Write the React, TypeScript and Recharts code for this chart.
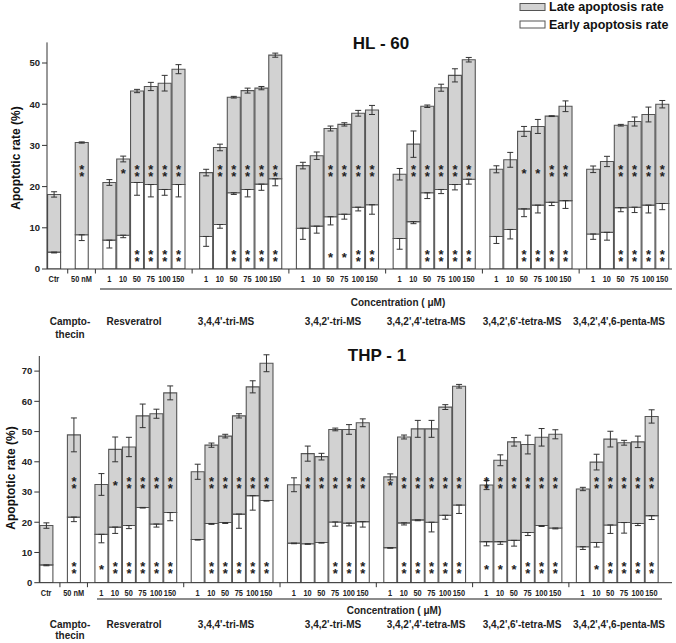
import React from 'react';
import { BarChart, Bar, XAxis, YAxis, ErrorBar, LabelList } from 'recharts';

const FONT = '"Liberation Sans", Arial, Helvetica, sans-serif';

// ---- categories ----
const treatments = ['Ctr', '50 nM'];
const concentrations = ['1', '10', '50', '75', '100', '150'];
const compounds = ['Resveratrol', "3,4,4'-tri-MS", "3,4,2'-tri-MS", "3,4,2',4'-tetra-MS", "3,4,2',6'-tetra-MS", "3,4,2',4',6-penta-MS"];

// ---- HL-60 ----
const hl60Total = [18.1, 30.7, 21.0, 26.7, 43.2, 44.3, 45.1, 48.5, 23.4, 29.5, 41.7, 43.3, 43.9, 51.9, 25.1, 27.5, 34.1, 35.1, 37.8, 38.6, 23.0, 30.3, 39.5, 44.0, 47.0, 50.8, 24.2, 26.5, 33.4, 34.6, 37.1, 39.5, 24.2, 26.1, 34.9, 35.8, 37.5, 40.0];
const hl60TotalErr = [0.65, 0.15, 0.7, 0.7, 0.4, 1.0, 1.9, 1.1, 0.8, 0.8, 0.2, 0.6, 0.4, 0.5, 0.8, 0.9, 0.6, 0.4, 0.7, 1.1, 1.4, 3.2, 0.3, 0.85, 1.6, 0.55, 0.85, 1.8, 1.2, 1.7, 0.1, 1.3, 0.8, 1.25, 0.2, 1.1, 1.8, 0.9];
const hl60Early = [4.1, 8.3, 7.0, 8.2, 21.0, 20.5, 19.3, 20.5, 7.9, 10.8, 18.5, 19.3, 20.6, 21.9, 9.9, 10.4, 12.7, 13.3, 15.0, 15.6, 7.4, 11.5, 18.5, 19.3, 20.5, 21.8, 7.9, 9.6, 14.6, 15.5, 16.2, 16.6, 8.5, 8.9, 14.9, 15.0, 15.5, 15.9];
const hl60EarlyErr = [0.2, 1.4, 1.9, 0.6, 3.1, 3.0, 1.4, 3.0, 2.4, 0.9, 0.4, 1.8, 1.5, 1.7, 2.7, 1.7, 2.0, 1.2, 0.9, 2.3, 2.6, 0.5, 1.4, 1.0, 1.3, 1.2, 1.7, 2.3, 1.9, 1.9, 0.8, 1.9, 1.3, 1.9, 1.0, 1.3, 1.9, 1.5];
const hl60LateSig = ['', '**', '', '*', '**', '**', '**', '**', '', '**', '**', '**', '**', '**', '', '', '**', '**', '**', '**', '', '**', '**', '**', '**', '**', '', '', '*', '*', '**', '**', '', '', '**', '**', '**', '**'];
const hl60EarlySig = ['', '', '', '', '**', '**', '**', '**', '', '', '**', '**', '**', '**', '', '', '*', '*', '**', '**', '', '', '**', '**', '**', '**', '', '', '**', '**', '**', '**', '', '', '**', '**', '**', '**'];

// ---- THP-1 ----
const thpTotal = [18.9, 48.9, 32.5, 44.1, 44.9, 55.2, 55.9, 62.8, 36.7, 45.5, 48.5, 55.2, 64.8, 72.6, 32.4, 42.7, 41.7, 50.7, 50.7, 52.9, 35.0, 48.2, 50.9, 50.9, 58.1, 65.0, 32.3, 40.5, 46.6, 45.7, 48.1, 49.1, 31.0, 39.9, 47.5, 46.3, 46.6, 55.0];
const thpTotalErr = [0.9, 5.6, 3.6, 4.1, 3.2, 3.9, 1.5, 2.3, 2.5, 0.7, 0.6, 0.7, 2.0, 2.8, 2.3, 2.5, 1.1, 0.45, 1.6, 1.3, 1.0, 0.65, 2.8, 2.8, 0.8, 0.6, 1.5, 1.8, 1.4, 3.1, 2.9, 1.5, 0.55, 2.6, 2.6, 0.8, 1.9, 2.2];
const thpEarly = [5.9, 21.7, 16.0, 18.4, 18.9, 24.9, 19.4, 23.2, 14.3, 19.6, 19.9, 22.7, 28.8, 27.2, 13.1, 12.9, 13.3, 20.1, 19.7, 20.2, 11.6, 19.8, 20.8, 20.0, 22.3, 25.7, 13.6, 13.6, 14.0, 16.6, 18.9, 18.1, 11.9, 13.3, 19.1, 19.9, 19.6, 22.2];
const thpEarlyErr = [0.3, 1.5, 2.8, 2.1, 1.0, 0.2, 1.0, 2.7, 0.2, 0.3, 0.3, 4.7, 4.8, 0.2, 0.2, 0.2, 0.2, 1.4, 0.9, 1.8, 0.2, 0.7, 0.3, 3.2, 1.3, 2.8, 1.4, 0.9, 1.9, 1.0, 0.3, 0.3, 0.9, 1.5, 2.8, 3.5, 0.7, 1.3];
const thpLateSig = ['', '**', '', '*', '**', '**', '**', '**', '', '**', '**', '**', '**', '**', '', '**', '**', '**', '**', '**', '*', '**', '**', '**', '**', '**', '**', '**', '**', '**', '**', '**', '', '**', '**', '**', '**', '**'];
const thpEarlySig = ['', '**', '*', '**', '**', '**', '**', '**', '', '**', '**', '**', '**', '**', '', '', '', '**', '**', '**', '', '**', '**', '**', '**', '**', '*', '*', '*', '**', '**', '**', '', '*', '**', '**', '**', '**'];

const hl60Ticks = [0, 10, 20, 30, 40, 50];
const thpTicks = [0, 10, 20, 30, 40, 50, 60, 70];

// slot labels with empty gap slots between groups
function slotLabels(): string[] {
  const s: string[] = [treatments[0], '', treatments[1], ''];
  compounds.forEach((_, g) => {
    s.push(...concentrations);
    if (g < compounds.length - 1) s.push('');
  });
  return s;
}

function buildRows(total: number[], totalErr: number[], early: number[], earlyErr: number[], lateSig: string[], earlySig: string[]) {
  let k = 0;
  return slotLabels().map((label, idx) => {
    if (label === '') return { idx, label: '', gap: true, early: null, late: null, earlyErr: null, totalErr: null, lateSig: '', earlySig: '' };
    const i = k++;
    return {
      idx,
      label,
      gap: false,
      early: early[i],
      late: +(total[i] - early[i]).toFixed(2),
      earlyErr: [earlyErr[i], 0],
      totalErr: totalErr[i],
      lateSig: lateSig[i],
      earlySig: earlySig[i],
    };
  });
}

const hl60Rows = buildRows(hl60Total, hl60TotalErr, hl60Early, hl60EarlyErr, hl60LateSig, hl60EarlySig);
const thpRows = buildRows(thpTotal, thpTotalErr, thpEarly, thpEarlyErr, thpLateSig, thpEarlySig);

function XTick(props: any) {
  const { x, y, payload, rows } = props;
  const row = rows[payload.value];
  if (!row) return null;
  if (row.gap) return <line x1={x} x2={x} y1={y - 4} y2={y + 0.5} stroke="#333" strokeWidth={1} />;
  return (
    <text
      x={x}
      y={y + 9}
      textAnchor="middle"
      fontSize={9}
      fontWeight="bold"
      fontFamily={FONT}
      fill="#222"
      transform={`translate(${x},0) scale(0.82,1) translate(${-x},0)`}
    >
      {row.label}
    </text>
  );
}

function Stars({ cx, cy, sig }: { cx: number; cy: number; sig: string }) {
  const fs = 13;
  if (sig === '**') {
    // two asterisks stacked vertically, written as one vertical text
    return (
      <text
        x={cx}
        y={cy}
        textAnchor="middle"
        fontSize={fs}
        fontWeight="bold"
        fontFamily={FONT}
        fill="#222"
        style={{ writingMode: 'vertical-rl', textOrientation: 'upright', letterSpacing: -8 } as any}
      >
        **
      </text>
    );
  }
  return (
    <text x={cx} y={cy + 0.5 + fs * 0.6} textAnchor="middle" fontSize={fs} fontWeight="bold" fontFamily={FONT} fill="#222">
      *
    </text>
  );
}

function makeStarContent(rows: any[], which: 'late' | 'early', starVal: number) {
  return (props: any) => {
    const vb = props.viewBox && props.viewBox.width != null ? props.viewBox : props;
    const { x, y, width, height } = vb;
    const row = rows[props.value];
    if (!row || row.gap) return null;
    const sig = which === 'late' ? row.lateSig : row.earlySig;
    if (!sig) return null;
    const segVal = which === 'late' ? row.late : row.early;
    if (!segVal || !height) return null;
    const ppu = Math.abs(height) / segVal;
    const top = Math.min(y, y + height);
    const bottom = top + Math.abs(height);
    const base = which === 'late' ? bottom + row.early * ppu : bottom;
    const cy = base - starVal * ppu;
    return <Stars key={`${which}-${props.value}`} cx={x + width / 2} cy={cy} sig={sig} />;
  };
}

type PanelProps = {
  rows: any[];
  top: number;
  height: number;
  marginTop: number;
  xAxisHeight: number;
  yWidth: number;
  padRight: number;
  max: number;
  ticks: number[];
  lateStar: number;
  earlyStar: number;
};

function Panel(p: PanelProps) {
  return (
    <div style={{ position: 'absolute', left: 0, top: p.top, width: 676, height: p.height }}>
      <BarChart
        width={676}
        height={p.height}
        data={p.rows}
        margin={{ top: p.marginTop, right: 4, left: 0, bottom: 0 }}
        barCategoryGap={0.6}
      >
        <XAxis
          dataKey="idx"
          type="category"
          interval={0}
          tickSize={4}
          tickMargin={0}
          tickLine={false}
          axisLine={{ stroke: '#333', strokeWidth: 1 }}
          tick={<XTick rows={p.rows} />}
          height={p.xAxisHeight}
          padding={{ left: 0, right: p.padRight }}
        />
        <YAxis
          type="number"
          domain={[0, p.max]}
          ticks={p.ticks}
          allowDataOverflow
          width={p.yWidth}
          tickSize={5}
          tickMargin={2}
          axisLine={{ stroke: '#333', strokeWidth: 1 }}
          tickLine={{ stroke: '#333' }}
          tick={{ fontSize: 9.5, fontWeight: 'bold', fill: '#222', fontFamily: FONT }}
        />
        <Bar dataKey="early" stackId="s" fill="#ffffff" stroke="#555" strokeWidth={1.1} isAnimationActive={false}>
          <ErrorBar dataKey="earlyErr" width={3} stroke="#333" strokeWidth={1} />
          <LabelList dataKey="idx" content={makeStarContent(p.rows, 'early', p.earlyStar)} />
        </Bar>
        <Bar dataKey="late" stackId="s" fill="#d2d2d2" stroke="#555" strokeWidth={1.1} isAnimationActive={false}>
          <ErrorBar dataKey="totalErr" width={3} stroke="#333" strokeWidth={1} />
          <LabelList dataKey="idx" content={makeStarContent(p.rows, 'late', p.lateStar)} />
        </Bar>
      </BarChart>
    </div>
  );
}

const groupLabelX = [134, 226, 333, 426, 522, 619];

function GroupLabels({ lineY, lineX1, lineX2, concX, concY, groupY, thecinY }: any) {
  const t = { fontFamily: FONT, fontWeight: 'bold' as const, fill: '#222', textAnchor: 'middle' as const, dominantBaseline: 'central' as const };
  return (
    <g>
      <line x1={lineX1} x2={lineX2} y1={lineY} y2={lineY} stroke="#666" strokeWidth={1.3} />
      <text x={concX} y={concY} fontSize={10} {...t}>Concentration ( μM)</text>
      <text x={70} y={groupY} fontSize={10} {...t}>Campto-</text>
      <text x={70} y={thecinY} fontSize={10} {...t}>thecin</text>
      {compounds.map((c, i) => (
        <text key={c} x={groupLabelX[i]} y={groupY} fontSize={10} {...t}>{c}</text>
      ))}
    </g>
  );
}

export default function App() {
  const t = { fontFamily: FONT, fontWeight: 'bold' as const, fill: '#111', dominantBaseline: 'central' as const };
  return (
    <div style={{ position: 'absolute', left: 0, top: 0, width: 676, height: 643, background: '#fff', overflow: 'hidden' }}>
      <Panel rows={hl60Rows} top={0} height={290} marginTop={42.4} xAxisHeight={21} yWidth={47} padRight={3} max={55} ticks={hl60Ticks} lateStar={24.2} earlyStar={3.6} />
      <Panel rows={thpRows} top={300} height={305} marginTop={56} xAxisHeight={22.3} yWidth={39.3} padRight={13.7} max={75} ticks={thpTicks} lateStar={33.5} earlyStar={5.6} />
      <svg width={676} height={643} style={{ position: 'absolute', left: 0, top: 0, pointerEvents: 'none' }}>
        <rect x={520} y={3.5} width={25} height={7} fill="#d2d2d2" stroke="#555" />
        <text x={549} y={7} fontSize={12.5} {...t}>Late apoptosis rate</text>
        <rect x={520} y={21} width={25} height={7} fill="#fff" stroke="#555" />
        <text x={549} y={24.5} fontSize={12.5} {...t}>Early apoptosis rate</text>

        <text x={381} y={43.5} fontSize={17} textAnchor="middle" {...t}>HL - 60</text>
        <text x={377} y={355} fontSize={17} textAnchor="middle" {...t}>THP - 1</text>

        <text transform="translate(16,158) rotate(-90)" fontSize={12} textAnchor="middle" {...t}>Apoptotic rate (%)</text>
        <text transform="translate(11,478) rotate(-90)" fontSize={12} textAnchor="middle" {...t}>Apoptotic rate (%)</text>

        <GroupLabels lineY={289} lineX1={100} lineX2={672} concX={398} concY={302} groupY={321} thecinY={334} />
        <GroupLabels lineY={599} lineX1={97} lineX2={662} concX={394} concY={610} groupY={624} thecinY={635} />
      </svg>
    </div>
  );
}
